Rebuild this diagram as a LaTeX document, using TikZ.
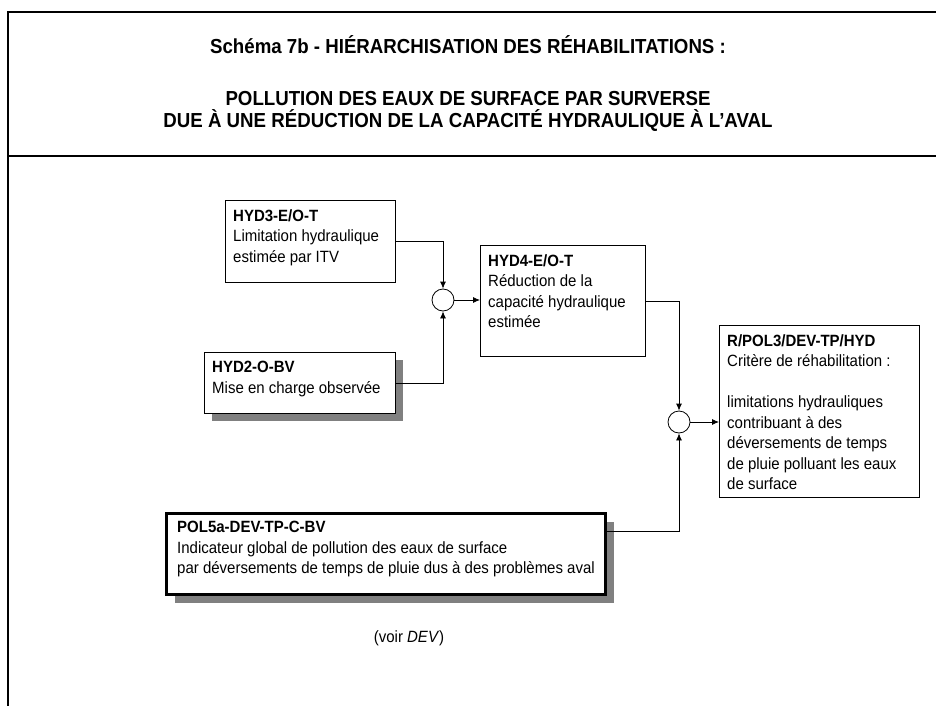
\documentclass[tikz,border=0pt]{standalone}
\usepackage{fontspec}
\setmainfont{Liberation Sans}[FakeStretch=0.92]
\usetikzlibrary{arrows.meta,shadows,calc}
\definecolor{shade}{HTML}{808080}
\begin{document}
\begin{tikzpicture}[x=1pt,y=-1pt,
  box/.style={draw=black,line width=0.8pt,fill=white,anchor=north west,inner sep=0pt},
  shbox/.style={box,drop shadow={shadow xshift=8pt,shadow yshift=-8pt,fill=shade,opacity=1}},
  txt/.style={anchor=north west,align=left,inner xsep=8pt,inner ysep=9pt,font=\fontsize{16.3}{20.5}\selectfont},
  junc/.style={circle,draw=black,line width=0.8pt,fill=white,minimum size=22pt,inner sep=0pt},
  conn/.style={line width=0.8pt,-{Latex[length=7pt,width=6pt]}},
  title/.style={font=\bfseries\fontsize{20.3}{22}\selectfont}
]
\useasboundingbox (0,0) rectangle (936,706);
% frame
\draw[line width=2pt] (8,706) -- (8,12) -- (936,12);
\draw[line width=2pt,shade] (9,156) -- (936,156);
% titles
\node[title] (t1) at (468,45) {Schéma 7b - HIÉRARCHISATION DES RÉHABILITATIONS :};
\node[title] (t2) at (468,99) {POLLUTION DES EAUX DE SURFACE PAR SURVERSE};
\node[title] (t3) at (468,121) {DUE À UNE RÉDUCTION DE LA CAPACITÉ HYDRAULIQUE À L’AVAL};
% boxes
\node[box,minimum width=170pt,minimum height=82pt] (hyd3) at (225,200) {};
\node[txt] (hyd3t) at (hyd3.north west) {\textbf{HYD3-E/O-T}\\Limitation hydraulique\\estimée par ITV};
\node[shbox,minimum width=191pt,minimum height=61pt] (hyd2) at (204,352) {};
\node[txt] (hyd2t) at (hyd2.north west) {\textbf{HYD2-O-BV}\\Mise en charge observée};
\node[box,minimum width=165pt,minimum height=111pt] (hyd4) at (480,245) {};
\node[txt] (hyd4t) at (hyd4.north west) {\textbf{HYD4-E/O-T}\\Réduction de la\\capacité hydraulique\\estimée};
\node[box,minimum width=200pt,minimum height=172pt] (rb) at (719,325) {};
\node[txt] (rbt) at (rb.north west) {\textbf{R/POL3/DEV-TP/HYD}\\Critère de réhabilitation :\\[20.5pt]limitations hydrauliques\\contribuant à des\\déversements de temps\\de pluie polluant les eaux\\de surface};
\node[shbox,line width=3pt,minimum width=439pt,minimum height=81pt] (pol) at (165,512) {};
\node[txt,inner xsep=12pt] (polt) at (pol.north west) {\textbf{POL5a-DEV-TP-C-BV}\\Indicateur global de pollution des eaux de surface\\par déversements de temps de pluie dus à des problèmes aval};
\node[font=\fontsize{16.3}{20}\selectfont] (voir) at (409,638) {(voir \textit{DEV})};
% junctions
\node[junc] (c1) at (443,300) {};
\node[junc] (c2) at (679,422) {};
% connectors
\draw[conn] (hyd3.east) -| (c1.north);
\draw[conn] (hyd2.east) -| (c1.south);
\draw[conn] (c1.east) -- (c1.east -| hyd4.west);
\draw[conn] (hyd4.east) -| (c2.north);
\coordinate (pe) at ($(pol.north east)+(0,19)$);
\draw[conn] (pe) -| (c2.south);
\draw[conn] (c2.east) -- (c2.east -| rb.west);
\end{tikzpicture}
\end{document}
